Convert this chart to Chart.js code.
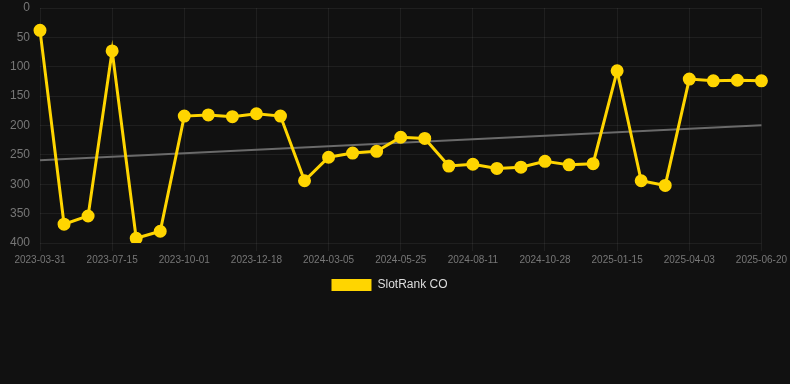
<!DOCTYPE html>
<html>
<head>
<meta charset="utf-8">
<script src="https://cdn.jsdelivr.net/npm/chart.js@4/dist/chart.umd.min.js"></script>
<style>
  html, body { margin: 0; padding: 0; background: #111111; }
  #wrap { width: 790px; height: 301px; position: relative; }
</style>
</head>
<body>
<div id="wrap"><canvas id="c"></canvas></div>
<script>
const categories = [
  "2023-03-31","2023-05-05","2023-06-10","2023-07-15","2023-08-10","2023-09-05",
  "2023-10-01","2023-10-27","2023-11-22","2023-12-18","2024-01-13","2024-02-08",
  "2024-03-05","2024-04-01","2024-04-28","2024-05-25","2024-06-20","2024-07-16",
  "2024-08-11","2024-09-06","2024-10-02","2024-10-28","2024-11-23","2024-12-19",
  "2025-01-15","2025-02-10","2025-03-08","2025-04-03","2025-04-29","2025-05-25",
  "2025-06-20"
];
const slotRankValues = [
  38, 368, 354, 73, 392, 380, 184, 182, 185, 180, 184, 294, 254, 247, 244, 220,
  222, 269, 266, 273, 271, 261, 267, 265, 107, 294, 302, 121, 124, 123, 124
];
const trendEnds = [259, 199.5];
const yTicks = [0, 50, 100, 150, 200, 250, 300, 350, 400];

const trendData = categories.map((_, i) =>
  i === 0 ? trendEnds[0] : (i === categories.length - 1 ? trendEnds[1] : null));

Chart.defaults.font.family = "'Liberation Sans', Arial, Helvetica, sans-serif";

new Chart(document.getElementById('c'), {
  type: 'line',
  data: {
    labels: categories,
    datasets: [
      {
        label: 'SlotRank CO',
        data: slotRankValues,
        borderColor: '#FFD500',
        backgroundColor: '#FFD500',
        borderWidth: 3,
        pointRadius: 5,
        pointHoverRadius: 5,
        pointBackgroundColor: '#FFD500',
        pointBorderColor: '#FFD500',
        tension: 0,
        order: 1
      },
      {
        label: 'trend',
        data: trendData,
        spanGaps: true,
        borderColor: '#6a6a6a',
        backgroundColor: '#6a6a6a',
        borderWidth: 2,
        pointRadius: 0,
        tension: 0,
        order: 2
      }
    ]
  },
  options: {
    responsive: true,
    maintainAspectRatio: false,
    animation: false,
    layout: { padding: { left: 0, top: 0, right: 11, bottom: 0 } },
    scales: {
      x: {
        grid: { color: 'rgba(255,255,255,0.06)', tickLength: 8 },
        border: { display: false },
        ticks: {
          color: '#777777',
          font: { size: 10 },
          maxRotation: 0,
          autoSkip: false,
          callback: function(v, i) { return i % 3 === 0 ? categories[i] : null; }
        }
      },
      y: {
        reverse: true,
        min: 0,
        max: 400,
        afterBuildTicks: (axis) => { axis.ticks = yTicks.map(v => ({ value: v })); },
        afterFit: (scale) => { scale.width = 40; },
        grid: { color: 'rgba(255,255,255,0.06)', tickColor: 'rgba(0,0,0,0)', tickLength: 8 },
        border: { display: false },
        ticks: { color: '#777777', font: { size: 12, lineHeight: 0.85 }, padding: 2 }
      }
    },
    plugins: {
      legend: {
        position: 'bottom',
        labels: {
          color: '#dddddd',
          font: { size: 12 },
          boxWidth: 40,
          boxHeight: 12,
          filter: (item) => item.text !== 'trend',
          generateLabels: (chart) => {
            const items = Chart.defaults.plugins.legend.labels.generateLabels(chart);
            items.forEach(it => { it.lineWidth = 0; it.strokeStyle = 'transparent'; });
            return items;
          }
        }
      },
      tooltip: { enabled: false }
    }
  }
});
</script>
</body>
</html>
